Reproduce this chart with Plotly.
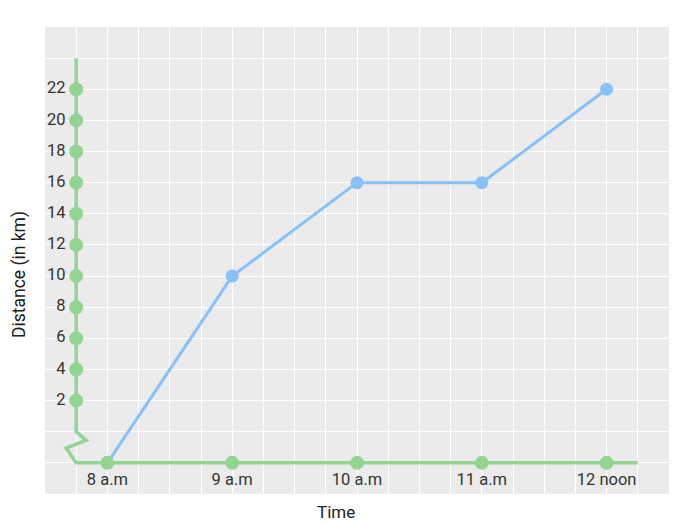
import plotly.graph_objects as go

# ---- data ----
time_labels = ["8 a.m", "9 a.m", "10 a.m", "11 a.m", "12 noon"]
hours = [8, 9, 10, 11, 12]
distance_km = [0, 10, 16, 16, 22]
y_tick_values = [2, 4, 6, 8, 10, 12, 14, 16, 18, 20, 22]
y_tick_labels = [str(v) for v in y_tick_values]

# broken-axis geometry (axis drawn with a zig-zag break below 2 km)
BASELINE = -2          # where 0 km is drawn (after the break)
AXIS_X = 7.75          # position of the drawn vertical axis
LABEL_X = 7.665        # right edge of the y labels
axis_path_x = [7.75, 7.75, 7.83, 7.67, 7.75, 12.25]
axis_path_y = [24, 0, -0.55, -1.05, -2, -2]

GREEN = "#93D493"
BLUE = "#88C0F8"
FONT = "Roboto"


def y_pos(d):
    return d if d > 0 else BASELINE


fig = go.Figure()

# distance-time line
fig.add_trace(go.Scatter(
    x=hours, y=[y_pos(d) for d in distance_km],
    mode="lines+markers",
    line=dict(color=BLUE, width=3),
    marker=dict(color=BLUE, size=13),
    hoverinfo="skip", showlegend=False,
))

# drawn axes with break
fig.add_trace(go.Scatter(
    x=axis_path_x, y=axis_path_y, mode="lines",
    line=dict(color=GREEN, width=3.5),
    hoverinfo="skip", showlegend=False,
))

# y-axis tick dots
fig.add_trace(go.Scatter(
    x=[AXIS_X] * len(y_tick_values), y=y_tick_values,
    mode="markers", marker=dict(color=GREEN, size=14),
    hoverinfo="skip", showlegend=False,
))

# y-axis labels
fig.add_trace(go.Scatter(
    x=[LABEL_X] * len(y_tick_values), y=y_tick_values,
    mode="text", text=y_tick_labels, textposition="middle left",
    textfont=dict(family=FONT, size=16.5, color="#333333"),
    hoverinfo="skip", showlegend=False,
))

# x-axis tick dots + labels
fig.add_trace(go.Scatter(
    x=hours, y=[BASELINE] * len(hours),
    mode="markers+text", text=time_labels, textposition="bottom center",
    textfont=dict(family=FONT, size=16.5, color="#333333"),
    marker=dict(color=GREEN, size=14),
    hoverinfo="skip", showlegend=False,
))

fig.update_layout(
    width=689, height=517,
    margin=dict(l=37, r=28, t=19, b=31),
    paper_bgcolor="white",
    plot_bgcolor="#EBEBEB",
    font=dict(family=FONT, size=16, color="#222222"),
    xaxis=dict(range=[7.5, 12.5], tick0=7.5, dtick=0.25, showgrid=True,
               gridcolor="white", gridwidth=1.2, zeroline=False,
               showticklabels=False, ticks="", showline=False, fixedrange=True),
    yaxis=dict(range=[-4, 26], tick0=0, dtick=2, showgrid=True,
               gridcolor="white", gridwidth=1.2, zeroline=False,
               showticklabels=False, ticks="", showline=False, fixedrange=True),
    annotations=[
        dict(text="Time", xref="paper", yref="paper", x=0.466, y=-0.0385,
             xanchor="center", yanchor="middle", showarrow=False,
             font=dict(family=FONT, size=17, color="#222222")),
        dict(text="Distance (in km)", xref="paper", yref="paper", x=-0.04,
             y=0.469, xanchor="center", yanchor="middle", textangle=-90,
             showarrow=False, font=dict(family=FONT, size=17.5, color="#222222")),
    ],
)

fig.write_html("out.html")
